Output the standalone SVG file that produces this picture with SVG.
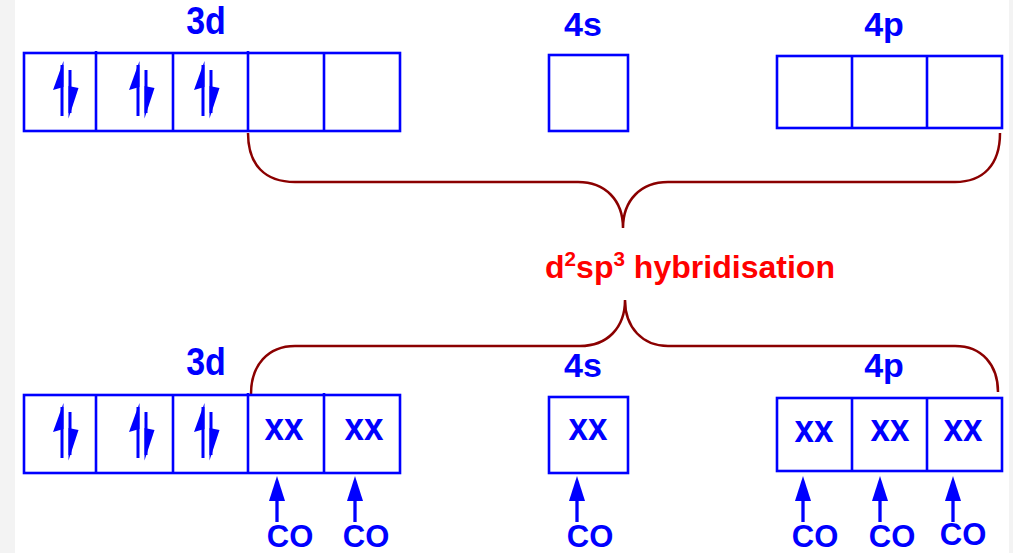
<svg xmlns="http://www.w3.org/2000/svg" xmlns:xlink="http://www.w3.org/1999/xlink" width="1013" height="553" viewBox="0 0 1013 553">
<style>
.box{fill:none;stroke:#0000FF;stroke-width:2.6}
.lbl{font-family:"Liberation Sans",Arial,sans-serif;font-weight:bold;fill:#0000FF;text-anchor:middle}
.orb{font-size:34px}
.xx{font-size:35px}
.co{font-size:31px}
.brace{fill:none;stroke:#8B0000;stroke-width:2.5}
.hyb{font-family:"Liberation Sans",Arial,sans-serif;font-weight:bold;fill:#FF0000;font-size:31px}
.shaft{stroke:#0000FF;stroke-width:3}
.coshaft{stroke:#0000FF;stroke-width:3.3}
</style>
<defs>
<g id="harpoon">
<line class="shaft" x1="0" y1="12" x2="0" y2="63"/>
<polygon points="1.5,8 -9,37 1.5,34" fill="#0000FF"/>
<line class="shaft" x1="8" y1="17" x2="8" y2="60"/>
<polygon points="6.5,33 16.5,35 6.5,65.5" fill="#0000FF"/>
</g>
<g id="coarrow">
<line class="coshaft" x1="0" y1="496" x2="0" y2="522"/>
<polygon points="0,476 8,501 -8,501" fill="#0000FF"/>
</g>
</defs>
<rect x="0" y="0" width="1013" height="553" fill="#FFFFFF"/>
<rect x="0" y="0" width="15" height="553" fill="#F3F3F3"/>
<rect x="1009" y="0" width="4" height="553" fill="#F3F3F3"/>

<g id="top-3d">
<text class="lbl orb" transform="translate(206,34) scale(1,1.12)">3d</text>
<rect class="box" x="24" y="53" width="376" height="78"/>
<line class="box" x1="96" y1="51" x2="96" y2="131"/>
<line class="box" x1="173" y1="53" x2="173" y2="131"/>
<line class="box" x1="248" y1="51" x2="248" y2="131"/>
<line class="box" x1="324" y1="53" x2="324" y2="131"/>
<use xlink:href="#harpoon" x="62" y="53"/>
<use xlink:href="#harpoon" x="138" y="53"/>
<use xlink:href="#harpoon" x="203" y="53"/>
</g>
<g id="top-4s">
<text class="lbl orb" x="583" y="36">4s</text>
<rect class="box" x="549" y="55" width="79" height="76"/>
</g>
<g id="top-4p">
<text class="lbl orb" x="884" y="36">4p</text>
<rect class="box" x="777" y="56" width="225" height="72"/>
<line class="box" x1="852" y1="56" x2="852" y2="128"/>
<line class="box" x1="927" y1="56" x2="927" y2="128"/>
</g>

<g id="connectors">
<path class="brace" d="M248,133 C248,165 265,182 295,182 L578,182 C605,182 623,200 623,228 C623,200 641,182 668,182 L955,182 C983,182 1000,165 1000,133"/>
<path class="brace" d="M251,394 C251,365 268,346 295,346 L580,346 C607,346 625,328 625,300 C625,328 643,346 668,346 L955,346 C982,346 998,365 998,392"/>
<use xlink:href="#coarrow" x="277" y="0"/>
<use xlink:href="#coarrow" x="355" y="0"/>
<use xlink:href="#coarrow" x="577" y="0"/>
<use xlink:href="#coarrow" x="803" y="0"/>
<use xlink:href="#coarrow" x="880" y="0"/>
<use xlink:href="#coarrow" x="953" y="0"/>
</g>

<g id="hybridisation">
<text class="hyb" x="545" y="278" textLength="290" lengthAdjust="spacingAndGlyphs">d<tspan font-size="20" dy="-12">2</tspan><tspan dy="12">sp</tspan><tspan font-size="20" dy="-12">3</tspan><tspan dy="12"> hybridisation</tspan></text>
</g>

<g id="bottom-3d">
<text class="lbl orb" transform="translate(206,375) scale(1,1.12)">3d</text>
<rect class="box" x="24" y="395" width="376" height="78"/>
<line class="box" x1="96" y1="395" x2="96" y2="473"/>
<line class="box" x1="173" y1="395" x2="173" y2="473"/>
<line class="box" x1="248" y1="393" x2="248" y2="473"/>
<line class="box" x1="324" y1="393" x2="324" y2="473"/>
<use xlink:href="#harpoon" x="62" y="395"/>
<use xlink:href="#harpoon" x="138" y="395"/>
<use xlink:href="#harpoon" x="203" y="395"/>
<text class="lbl xx" transform="translate(284,440) scale(1,1.13)">xx</text>
<text class="lbl xx" transform="translate(364,440) scale(1,1.13)">xx</text>
</g>
<g id="bottom-4s">
<text class="lbl orb" x="583" y="377">4s</text>
<rect class="box" x="549" y="397" width="79" height="76"/>
<text class="lbl xx" transform="translate(588,440) scale(1,1.13)">xx</text>
</g>
<g id="bottom-4p">
<text class="lbl orb" x="884" y="377">4p</text>
<rect class="box" x="777" y="398" width="225" height="73"/>
<line class="box" x1="852" y1="398" x2="852" y2="471"/>
<line class="box" x1="927" y1="398" x2="927" y2="471"/>
<text class="lbl xx" transform="translate(814,442) scale(1,1.13)">xx</text>
<text class="lbl xx" transform="translate(890,441) scale(1,1.13)">xx</text>
<text class="lbl xx" transform="translate(963,441) scale(1,1.13)">xx</text>
</g>

<g id="co-ligands">
<text class="lbl co" x="290" y="547">CO</text>
<text class="lbl co" x="366" y="547">CO</text>
<text class="lbl co" x="590" y="547">CO</text>
<text class="lbl co" x="815" y="547">CO</text>
<text class="lbl co" x="892" y="547">CO</text>
<text class="lbl co" x="963" y="545">CO</text>
</g>
</svg>
